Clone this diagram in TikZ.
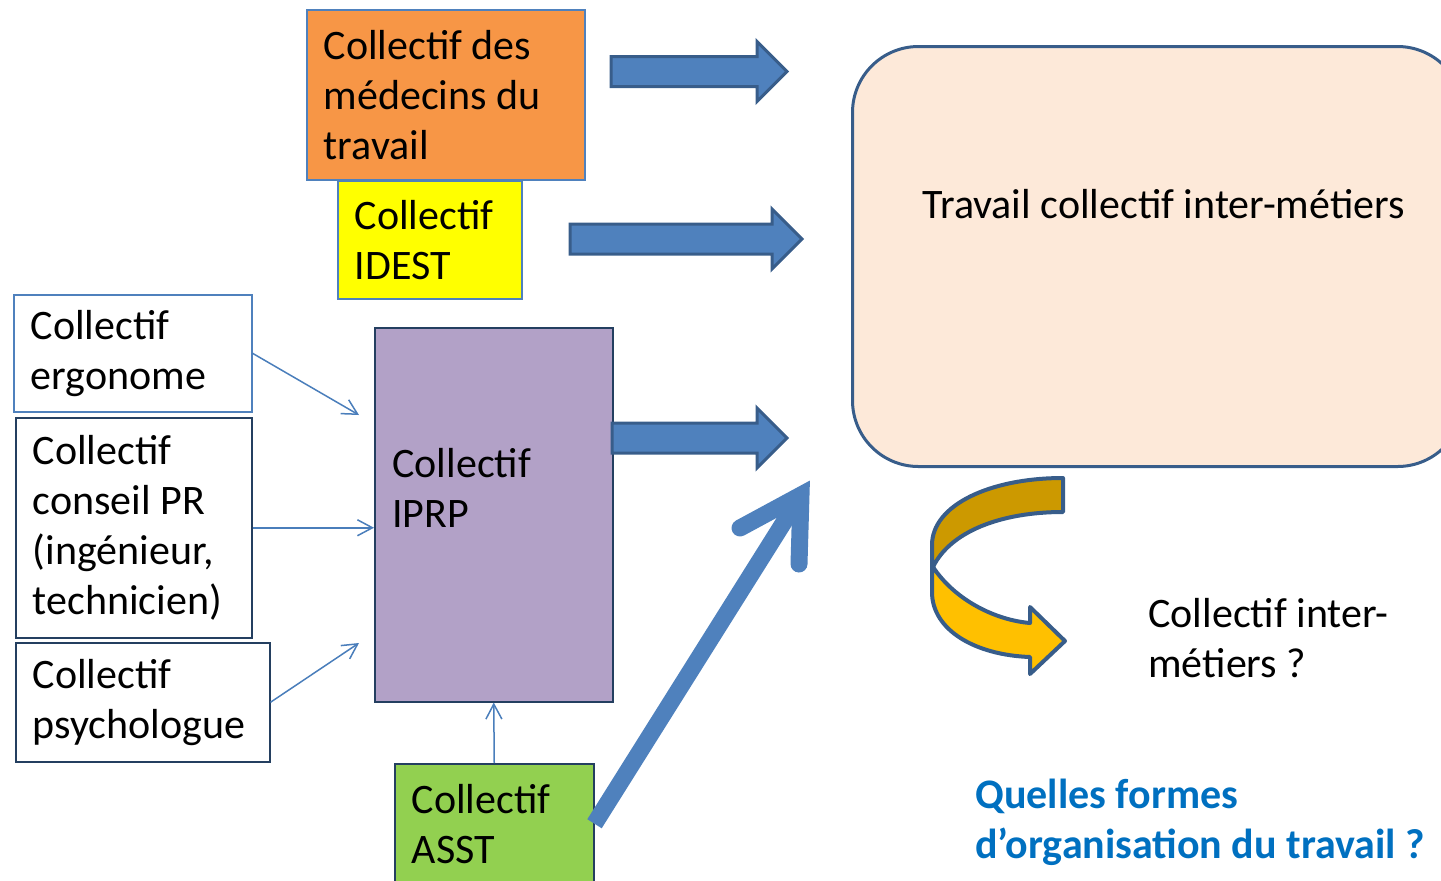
\documentclass[tikz,border=0pt]{standalone}
\usepackage{fontspec}
\setmainfont{Carlito}
\usetikzlibrary{arrows.meta}

\definecolor{orangeMed}{HTML}{F79646}
\definecolor{jauneIdest}{HTML}{FFFF00}
\definecolor{violetIprp}{HTML}{B2A1C7}
\definecolor{vertAsst}{HTML}{92D050}
\definecolor{peche}{HTML}{FDE9D9}
\definecolor{bordClair}{HTML}{4F81BD}
\definecolor{bordSombre}{HTML}{243F60}
\definecolor{bleuBloc}{HTML}{4F81BD}
\definecolor{bordBloc}{HTML}{385D8A}
\definecolor{flecheFine}{HTML}{4A7EBB}
\definecolor{orFonce}{HTML}{CC9900}
\definecolor{orClair}{HTML}{FFC000}
\definecolor{bleuQuestion}{HTML}{0070C0}

\begin{document}
\begin{tikzpicture}[x=0.5pt, y=-0.5pt,
    boite/.style={rectangle, draw=bordClair, line width=0.75pt, anchor=north west,
        inner xsep=8.5pt, inner ysep=0pt, align=flush left,
        font=\fontsize{21}{25}\selectfont},
    sombre/.style={draw=bordSombre},
    texte/.style={inner sep=0pt, anchor=west, align=left,
        font=\fontsize{21}{25}\selectfont},
    fine/.style={draw=flecheFine, line width=0.75pt,
        -{Straight Barb[length=7.5pt, width=8pt]}},
    bloc/.style={fill=bleuBloc, draw=bordBloc, line width=1.5pt},
    grosse/.style={draw=bleuBloc, line width=8.5pt},
    courbe/.style={draw=bordBloc, line width=2pt, line join=round}
]
    \useasboundingbox (0,0) rectangle (1441,880);
    \clip (0,0) rectangle (1441,880);

    % collectifs
    \node[boite, fill=orangeMed, text width=122pt, minimum height=85pt] (medecins) at (306,9)
        {Collectif des\\médecins du\\travail};
    \node[boite, fill=jauneIdest, text width=75pt, minimum height=59pt] (idest) at (337,180)
        {Collectif\\IDEST};
    \node[boite, fill=white, text width=102pt, minimum height=58.5pt] (ergo) at (13,294)
        {Collectif\\ergonome};
    \node[boite, sombre, fill=white, text width=101pt, minimum height=110pt] (conseil) at (15,417)
        {Collectif\\conseil PR\\(ingénieur,\\technicien)};
    \node[boite, sombre, fill=white, text width=110pt, minimum height=59.5pt] (psycho) at (15,642)
        {Collectif\\psychologue};
    \node[boite, sombre, fill=violetIprp, minimum width=119pt, minimum height=187pt] (iprp) at (374,327) {};
    \node[texte] (iprptexte) at (392,488) {Collectif\\IPRP};
    \node[boite, sombre, fill=vertAsst, text width=82.5pt, minimum height=60pt] (asst) at (394,763)
        {Collectif\\ASST};

    % travail collectif
    \node[boite, draw=bordBloc, line width=1.5pt, fill=peche, rounded corners=33pt,
        minimum width=305.5pt, minimum height=210pt] (travail) at (851,45) {};
    \node[texte] (travailtexte) at (922,204) {Travail collectif inter-métiers};

    % fleches fines
    \coordinate (versIprpHaut) at (359,415);
    \coordinate (versIprpBas) at (359,643);
    \draw[fine] (ergo.east) -- (versIprpHaut);
    \draw[fine] (conseil.east) -- (conseil.east -| iprp.west);
    \draw[fine] (psycho.east) -- (versIprpBas);
    \draw[fine] (asst.north) -- (iprp.south);

    % fleches pleines
    \foreach \xa/\xb/\yy in {611/787/71.5, 570/802/239, 612/787/438}
        \draw[bloc] (\xa,\yy-15) -- (\xb-30,\yy-15) -- (\xb-30,\yy-30) -- (\xb,\yy)
            -- (\xb-30,\yy+30) -- (\xb-30,\yy+15) -- (\xa,\yy+15) -- cycle;

    % grande fleche ASST
    \coordinate (pointe) at (801,495);
    \coordinate (barbeG) at (740,528);
    \coordinate (barbeD) at (799,564);
    \draw[grosse] (asst.east) -- (pointe);
    \draw[grosse, line cap=round, line join=miter] (barbeG) -- (pointe) -- (barbeD);

    % fleche courbe
    \draw[courbe, fill=orFonce] (1063,478) -- (1063,512)
        .. controls (1000,512) and (950,532) .. (933,567) -- (932,567) -- (932,545)
        .. controls (932,505) and (990,478) .. (1063,478) -- cycle;
    \draw[courbe, fill=orClair] (933,567)
        .. controls (955,600) and (995,620) .. (1030,623) -- (1030,607) -- (1065,641)
        -- (1030,674) -- (1030,657) .. controls (975,655) and (932,630) .. (932,592)
        -- (932,567) -- cycle;

    \node[texte] (question) at (1148,638) {Collectif inter-\\métiers ?};
    \node[texte, text=bleuQuestion, font=\fontsize{21}{25}\selectfont\bfseries] (formes) at (975,822)
        {Quelles formes\\d'organisation du travail ?};
\end{tikzpicture}
\end{document}
